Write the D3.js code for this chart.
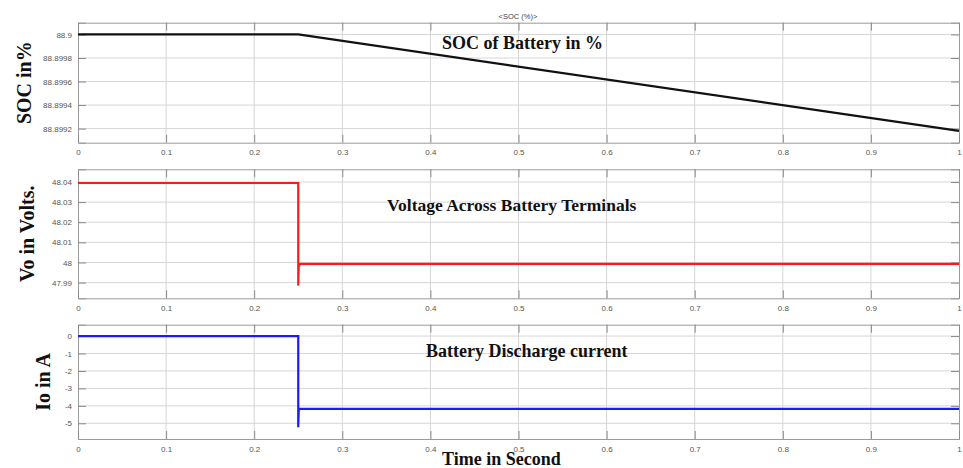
<!DOCTYPE html>
<html>
<head>
<meta charset="utf-8">
<script src="https://cdn.jsdelivr.net/npm/d3@7"></script>
<style>
  body { margin: 0; background: #fff; }
</style>
</head>
<body>
<div id="chart"></div>
<script>
var timeTicks = [0, 0.1, 0.2, 0.3, 0.4, 0.5, 0.6, 0.7, 0.8, 0.9, 1]

var socTime = [0, 0.25, 1]
var socValues = [88.9, 88.9, 88.89918]
var socTicks = [88.8992, 88.8994, 88.8996, 88.8998, 88.9]

var voltTime = [0, 0.25, 0.25, 0.2505, 0.252, 1]
var voltValues = [48.0395, 48.0395, 47.9885, 47.998, 47.9993, 47.9993]
var voltTicks = [47.99, 48, 48.01, 48.02, 48.03, 48.04]

var currentTime = [0, 0.25, 0.25, 0.2505, 0.252, 1]
var currentValues = [0, 0, -5.23, -4.25, -4.17, -4.17]
var currentTicks = [-5, -4, -3, -2, -1, 0]

var width = 963, height = 468
var left = 78, right = 959

var svg = d3.select("#chart").append("svg")
svg.attr("width", width).attr("height", height)

var x = d3.scaleLinear().domain([0, 1]).range([left, right])

var panels = [
  { top: 22.7, bottom: 142.7, domain: [88.89908, 88.9001], time: socTime, values: socValues, ticks: socTicks,
    color: "#111", fmt: function(d) { return d3.format("")(+d.toFixed(4)) },
    ylabel: "SOC in%", ylabelX: 24, note: "SOC of Battery in %", noteX: 442, noteY: 43, noteSize: 18 },
  { top: 169.3, bottom: 298.3, domain: [47.9822, 48.0463], time: voltTime, values: voltValues, ticks: voltTicks,
    color: "#ff1a1a", fmt: function(d) { return d3.format("")(+d.toFixed(2)) },
    ylabel: "Vo in Volts.", ylabelX: 27, note: "Voltage Across Battery Terminals", noteX: 387, noteY: 205, noteSize: 17.5 },
  { top: 324.7, bottom: 439, domain: [-5.9, 0.65], time: currentTime, values: currentValues, ticks: currentTicks,
    color: "#1a1aff", fmt: function(d) { return d3.format("")(d).replace("\u2212", "-") },
    ylabel: "Io in A", ylabelX: 43, note: "Battery Discharge current", noteX: 426, noteY: 351, noteSize: 18 }
]

panels.forEach(function(p) {
  var y = d3.scaleLinear().domain(p.domain).range([p.bottom, p.top])
  var g = svg.append("g")

  // grid
  g.selectAll(".vgrid").data(timeTicks.slice(1, -1)).enter().append("line")
    .attr("x1", function(d) { return x(d) }).attr("x2", function(d) { return x(d) })
    .attr("y1", p.top).attr("y2", p.bottom)
    .attr("stroke", "#d6d6d6").attr("stroke-width", 1)
  g.selectAll(".hgrid").data(p.ticks).enter().append("line")
    .attr("x1", left).attr("x2", right)
    .attr("y1", function(d) { return y(d) }).attr("y2", function(d) { return y(d) })
    .attr("stroke", "#d6d6d6").attr("stroke-width", 1)

  // axes with inward ticks
  var axisLeft = d3.axisLeft(y).tickValues(p.ticks).tickSize(-8).tickPadding(6).tickFormat(p.fmt)
  var axisRight = d3.axisRight(y).tickValues(p.ticks).tickSize(-8).tickFormat("")
  var axisBottom = d3.axisBottom(x).tickValues(timeTicks).tickSize(-8).tickPadding(7).tickFormat(d3.format(""))
  var axisTop = d3.axisTop(x).tickValues(timeTicks).tickSize(-8).tickFormat("")

  var aL = g.append("g").attr("transform", "translate(" + left + ",0)").call(axisLeft)
  var aR = g.append("g").attr("transform", "translate(" + right + ",0)").call(axisRight)
  var aB = g.append("g").attr("transform", "translate(0," + p.bottom + ")").call(axisBottom)
  var aT = g.append("g").attr("transform", "translate(0," + p.top + ")").call(axisTop)

  ;[aL, aR, aB, aT].forEach(function(a) {
    a.select(".domain").attr("stroke", "#9a9a9a")
    a.selectAll(".tick line").attr("stroke", "#8a8a8a")
    a.selectAll("text").attr("fill", "#555").style("font-family", "Liberation Sans, Arial, sans-serif").style("font-size", "8px")
  })

  var line = d3.line()
    .x(function(d) { return x(d[0]) })
    .y(function(d) { return y(d[1]) })
  g.append("path")
    .datum(d3.zip(p.time, p.values))
    .attr("d", line)
    .attr("fill", "none")
    .attr("stroke", p.color)
    .attr("stroke-width", 2.2)

  g.append("text")
    .text(p.ylabel)
    .attr("transform", "translate(" + p.ylabelX + "," + ((p.top + p.bottom) / 2) + ") rotate(-90)")
    .attr("text-anchor", "middle").attr("dy", "0.35em")
    .style("font-family", "Liberation Serif, Times New Roman, serif")
    .style("font-weight", "bold").style("font-size", "20px").attr("fill", "#111")

  g.append("text")
    .text(p.note)
    .attr("x", p.noteX).attr("y", p.noteY).attr("dy", "0.35em")
    .style("font-family", "Liberation Serif, Times New Roman, serif")
    .style("font-weight", "bold").style("font-size", p.noteSize + "px").attr("fill", "#111")
})

svg.append("text")
  .text("<SOC (%)>")
  .attr("x", 518).attr("y", 16).attr("dy", "0.35em").attr("text-anchor", "middle")
  .style("font-family", "Liberation Sans, Arial, sans-serif").style("font-size", "7.5px").attr("fill", "#444")

svg.append("text")
  .text("Time in Second")
  .attr("x", 442).attr("y", 459).attr("dy", "0.35em")
  .style("font-family", "Liberation Serif, Times New Roman, serif")
  .style("font-weight", "bold").style("font-size", "18px").attr("fill", "#111")
</script>
</body>
</html>
